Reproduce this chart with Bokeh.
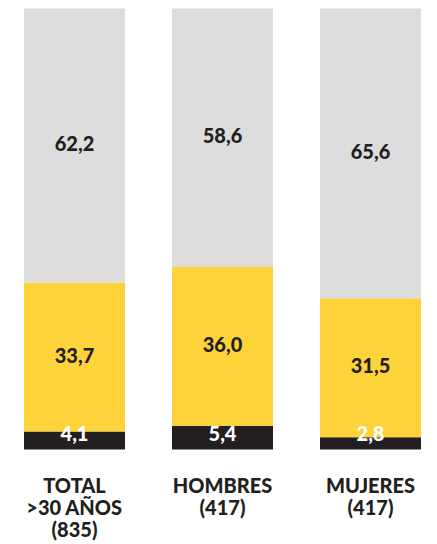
from bokeh.plotting import figure
from bokeh.models import Range1d
from bokeh.core.properties import value
from bokeh.embed import file_html
from bokeh.resources import INLINE

categories = ["TOTAL\n>30 AÑOS\n(835)", "HOMBRES\n(417)", "MUJERES\n(417)"]
bottom_vals = [4.1, 5.4, 2.8]
middle_vals = [33.7, 36.0, 31.5]
top_vals = [62.2, 58.6, 65.6]

c_dark = "#231f20"
c_yellow = "#fed339"
c_gray = "#dddddd"

W, H = 437, 544
top_px, base_px = 8, 449
px_per_unit = (base_px - top_px) / 100.0
ymax = 100 + top_px / px_per_unit
ymin = -(H - base_px) / px_per_unit
pitch = 148.0
x0 = -74.0 / pitch
x1 = x0 + W / pitch

p = figure(width=W, height=H, output_backend="svg", toolbar_location=None,
           x_range=Range1d(x0, x1), y_range=Range1d(ymin, ymax),
           min_border=0, outline_line_color=None)
p.axis.visible = False
p.grid.visible = False
p.background_fill_color = "white"
p.border_fill_color = "white"

xs = list(range(len(categories)))
b0 = [0.0] * 3
b1 = list(bottom_vals)
b2 = [a + b for a, b in zip(bottom_vals, middle_vals)]
t2 = [100.0] * 3
bw = 101 / pitch

p.vbar(x=xs, bottom=b0, top=b1, width=bw, fill_color=c_dark, line_color=None)
p.vbar(x=xs, bottom=b1, top=b2, width=bw, fill_color=c_yellow, line_color=None)
p.vbar(x=xs, bottom=b2, top=t2, width=bw, fill_color=c_gray, line_color=None)

def fmt(v):
    return f"{v:.1f}".replace(".", ",")

font = value("Lato Black")
fs = "20px"
p.text(x=xs, y=[max(v / 2, 3.3) for v in bottom_vals], text=[fmt(v) for v in bottom_vals],
       text_color="white", text_font=font, text_font_style="bold", text_font_size=fs,
       text_align="center", text_baseline="middle", y_offset=-1)
p.text(x=xs, y=[a + b / 2 for a, b in zip(b1, middle_vals)], text=[fmt(v) for v in middle_vals],
       text_color=c_dark, text_font=font, text_font_style="bold", text_font_size=fs,
       text_align="center", text_baseline="middle", y_offset=-2)
p.text(x=xs, y=[a + b / 2 for a, b in zip(b2, top_vals)], text=[fmt(v) for v in top_vals],
       text_color=c_dark, text_font=font, text_font_style="bold", text_font_size=fs,
       text_align="center", text_baseline="middle", y_offset=-2)

p.text(x=xs, y=[-(472 - base_px) / px_per_unit] * 3, text=categories,
       text_color=c_dark, text_font=font, text_font_style="bold", text_font_size="20px",
       text_align="center", text_baseline="top", text_line_height=0.92)

open("out.html", "w").write(file_html(p, INLINE))
